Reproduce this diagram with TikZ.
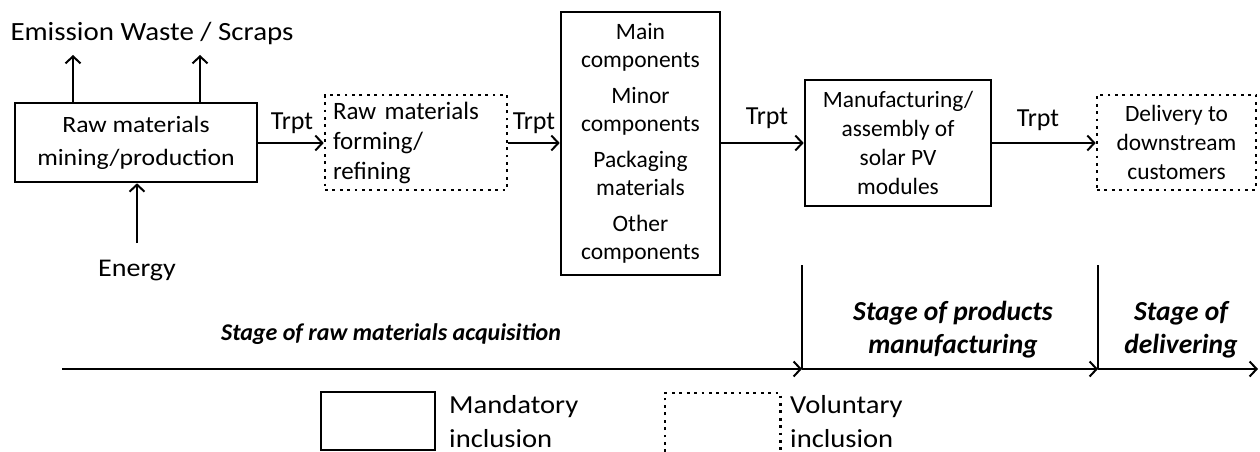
\documentclass[tikz,border=0pt]{standalone}
\usepackage{fontspec}
\setmainfont{Carlito}
\newfontfamily\widefont[FakeStretch=1.1]{Carlito}
\usetikzlibrary{arrows.meta}
\tikzset{
  solidbox/.style={draw, line width=2.6pt, align=center, inner sep=0pt},
  dotbox/.style={draw, line width=2.6pt, dash pattern=on 2.8pt off 4.6pt, inner sep=0pt},
  flow/.style={line width=2pt, -{Straight Barb[length=7pt,width=15pt]}},
  plain/.style={line width=2pt},
  trpt/.style={inner sep=0pt, font=\fontsize{26}{30}\selectfont},
  stagelbl/.style={inner sep=0pt, align=center, font=\fontsize{27.5}{33}\selectfont\bfseries\itshape},
}
\begin{document}
\begin{tikzpicture}[x=1pt,y=-1pt]
\useasboundingbox (0,0) rectangle (1260,452);
% boxes
\node[solidbox, minimum width=242pt, minimum height=79pt, font=\widefont\fontsize{23.4}{33}\selectfont] (b1) at (136,142.5) {Raw materials\\mining/production};
\node[dotbox, minimum width=182pt, minimum height=95pt, align=left, text width=166pt, font=\fontsize{25}{30}\selectfont] (b2) at (416,142.5) {Raw materials\\forming/\\refining};
\node[solidbox, minimum width=159pt, minimum height=263pt, font=\fontsize{23.5}{28}\selectfont] (b3) at (640.5,143.5) {Main\\components\\[8pt]Minor\\components\\[8pt]Packaging\\materials\\[8pt]Other\\components};
\node[solidbox, minimum width=186pt, minimum height=126pt, font=\fontsize{23.4}{29}\selectfont] (b4) at (898,143) {Manufacturing/\\assembly of\\solar PV\\modules};
\node[dotbox, minimum width=159pt, minimum height=95pt, align=center, font=\fontsize{23.4}{29}\selectfont] (b5) at (1176.5,142.5) {Delivery to\\downstream\\customers};
% emission / energy
\node[inner sep=0pt, font=\widefont\fontsize{26.3}{30}\selectfont] (em) at (152,33) {Emission Waste / Scraps};
\coordinate (e1) at (73,55);
\coordinate (e2) at (200,55);
\draw[flow] (b1.north -| e1) -- (e1);
\draw[flow] (b1.north -| e2) -- (e2);
\node[inner sep=0pt, font=\widefont\fontsize{25.5}{30}\selectfont] (en) at (137,271) {Energy};
\coordinate (en0) at (137,243);
\draw[flow] (en0) -- (b1.south -| en0);
% transport arrows
\draw[flow] (b1.east |- 0,143) -- (b2.west |- 0,143);
\draw[flow] (b2.east |- 0,143) -- (b3.west |- 0,143);
\draw[flow] (b3.east |- 0,143) -- (b4.west |- 0,143);
\draw[flow] (b4.east |- 0,143) -- (b5.west |- 0,143);
\node[trpt] (t1) at (292,123) {Trpt};
\node[trpt] (t2) at (534,123) {Trpt};
\node[trpt] (t3) at (767,118) {Trpt};
\node[trpt] (t4) at (1038,120) {Trpt};
% stage axis
\coordinate (a0) at (62,369);
\coordinate (a1) at (802,369);
\coordinate (a2) at (1098,369);
\coordinate (a3) at (1258,369);
\coordinate (v1) at (802,265);
\coordinate (v2) at (1098,265);
\draw[plain] (v1) -- (a1);
\draw[plain] (v2) -- (a2);
\draw[flow] (a0) -- (a1);
\draw[flow] (a1) -- (a2);
\draw[flow] (a2) -- (a3);
\node[stagelbl, font=\fontsize{24}{30}\selectfont\bfseries\itshape] (s1) at (391,334) {Stage of raw materials acquisition};
\node[stagelbl] (s2) at (953,330) {Stage of products\\manufacturing};
\node[stagelbl] (s3) at (1181,330) {Stage of\\delivering};
% legend
\node[solidbox, minimum width=114pt, minimum height=58pt] (lm) at (378,421) {};
\node[inner sep=0pt, anchor=west, align=left, font=\widefont\fontsize{26}{34}\selectfont] (tm) at (449,421.5) {Mandatory\\inclusion};
\node[inner sep=0pt, minimum width=115pt, minimum height=59pt] (lv) at (722.5,422.5) {};
\draw[line width=2.6pt, dash pattern=on 2.8pt off 4.6pt] (lv.south west) -- (lv.north west) -- (lv.north east) -- (lv.south east);
\node[inner sep=0pt, anchor=west, align=left, font=\widefont\fontsize{26}{34}\selectfont] (tv) at (790,421.5) {Voluntary\\inclusion};
\end{tikzpicture}
\end{document}
